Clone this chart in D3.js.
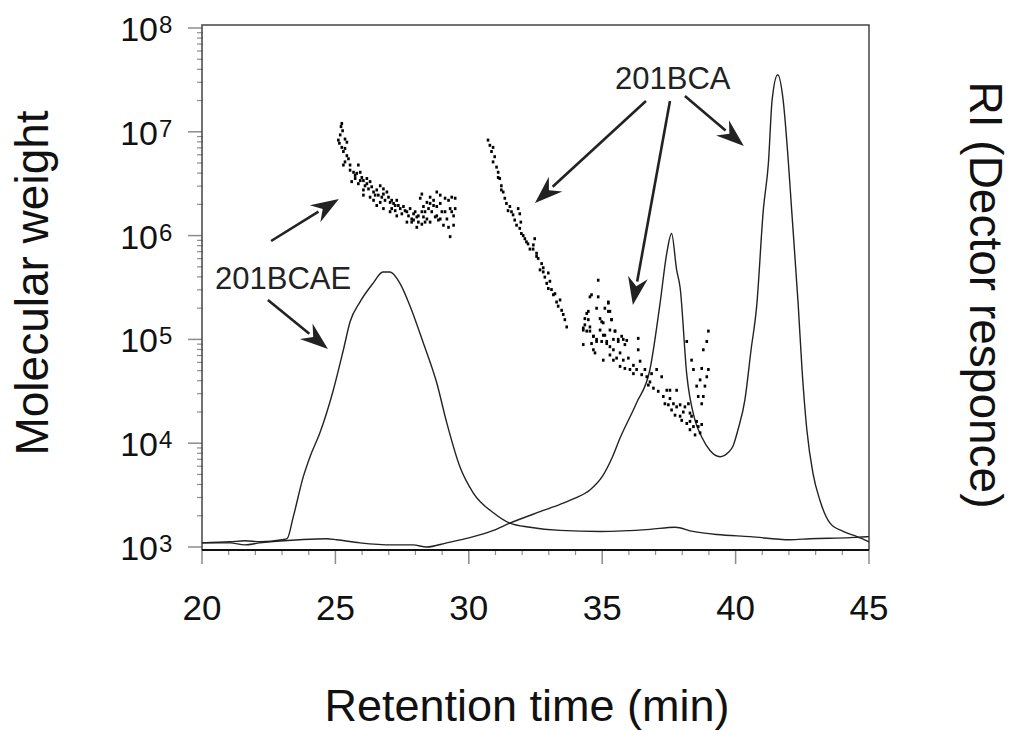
<!DOCTYPE html>
<html>
<head>
<meta charset="utf-8">
<script src="https://cdn.jsdelivr.net/npm/d3@7"></script>
<style>
  body { margin: 0; background: #fff; }
  svg text { font-family: "Liberation Sans", Arial, sans-serif; fill: #111; }
</style>
</head>
<body>
<div id="chart"></div>
<script>
// GPC trace: retention time (min) vs molecular weight (log scale)
// Traces and points are stored as [time, log10 value]

// RI trace, sample 201BCAE
let bcaeTrace = [
  [20.00, 3.04], [21.05, 3.05], [21.61, 3.06], [22.20, 3.05], [23.00, 3.07], [23.19, 3.08],
  [23.42, 3.29], [23.80, 3.68], [24.05, 3.87], [24.42, 4.10], [24.92, 4.51], [25.30, 4.90],
  [25.55, 5.17], [25.92, 5.36], [26.41, 5.54], [26.78, 5.65], [27.05, 5.65], [27.42, 5.54],
  [27.80, 5.32], [28.29, 4.97], [28.80, 4.58], [29.17, 4.20], [29.67, 3.77], [30.17, 3.52],
  [30.92, 3.33], [31.54, 3.23], [32.29, 3.19], [33.42, 3.16], [34.92, 3.15], [36.79, 3.17],
  [37.73, 3.19], [38.40, 3.15], [39.30, 3.12], [40.54, 3.10], [42.04, 3.07], [42.79, 3.08],
  [44.29, 3.09], [45.00, 3.10]
];

// RI trace, sample 201BCA
let bcaTrace = [
  [20.00, 3.04], [21.05, 3.04], [21.61, 3.02], [22.17, 3.04], [23.67, 3.07], [24.67, 3.08],
  [25.05, 3.07], [25.92, 3.04], [27.16, 3.02], [27.91, 3.02], [28.42, 3.00], [29.17, 3.04],
  [30.04, 3.09], [30.92, 3.16], [31.54, 3.23], [32.67, 3.34], [33.42, 3.41], [33.98, 3.47],
  [34.54, 3.55], [35.03, 3.69], [35.37, 3.86], [35.67, 4.05], [36.29, 4.39], [36.79, 4.71],
  [37.17, 5.35], [37.42, 5.83], [37.60, 6.02], [37.79, 5.67], [37.92, 5.50], [38.17, 4.66],
  [38.48, 4.22], [38.73, 4.06], [39.04, 3.93], [39.42, 3.87], [39.72, 3.91], [39.90, 3.97],
  [40.09, 4.13], [40.35, 4.42], [40.58, 4.90], [40.79, 5.32], [41.04, 6.25], [41.23, 6.70],
  [41.37, 7.31], [41.58, 7.55], [41.78, 7.31], [41.98, 6.70], [42.10, 6.25], [42.35, 5.32],
  [42.49, 4.71], [42.67, 4.13], [42.90, 3.71], [43.16, 3.45], [43.54, 3.23], [44.03, 3.15],
  [44.55, 3.10], [45.00, 3.05]
];

// molecular weight points, sample 201BCAE
let bcaeMw = [
  [25.24, 7.08], [25.21, 7.05], [25.27, 7.01], [25.18, 6.97], [25.11, 6.92], [25.15, 6.89],
  [25.36, 6.93], [25.43, 6.90], [25.24, 6.85], [25.36, 6.84], [25.30, 6.81], [25.43, 6.77],
  [25.49, 6.74], [25.36, 6.71], [25.30, 6.68], [25.55, 6.68], [25.86, 6.68], [25.68, 6.61],
  [25.80, 6.60], [25.93, 6.61], [25.99, 6.56], [25.74, 6.55], [25.61, 6.52], [26.05, 6.53],
  [26.18, 6.55], [26.30, 6.52], [26.11, 6.48], [26.24, 6.45], [26.36, 6.47], [26.43, 6.42],
  [26.05, 6.44], [26.55, 6.44], [26.68, 6.48], [26.80, 6.45], [26.61, 6.39], [26.80, 6.40],
  [26.93, 6.42], [26.99, 6.37], [26.68, 6.32], [26.86, 6.34], [27.05, 6.32], [27.18, 6.31],
  [27.30, 6.34], [27.36, 6.29], [27.11, 6.26], [27.24, 6.24], [27.43, 6.26], [27.55, 6.28],
  [27.68, 6.23], [27.49, 6.21], [27.80, 6.26], [27.74, 6.19], [27.93, 6.21], [27.86, 6.16],
  [28.05, 6.18], [28.11, 6.13], [28.24, 6.23], [28.30, 6.18], [28.24, 6.40], [28.18, 6.36],
  [28.43, 6.32], [28.55, 6.37], [28.68, 6.34], [28.80, 6.42], [28.93, 6.39], [28.49, 6.26],
  [28.61, 6.23], [28.74, 6.18], [28.86, 6.15], [28.99, 6.23], [29.11, 6.36], [29.24, 6.34],
  [29.36, 6.37], [29.49, 6.36], [29.30, 6.26], [29.18, 6.16], [29.43, 6.19], [29.05, 6.10],
  [29.24, 6.08], [29.30, 5.99], [28.55, 6.13], [28.43, 6.16], [28.05, 6.08], [28.24, 6.11],
  [27.68, 6.13], [27.86, 6.13], [27.30, 6.19], [27.05, 6.23], [26.80, 6.26], [26.55, 6.29],
  [26.43, 6.34], [26.30, 6.37], [25.86, 6.50], [26.05, 6.39], [28.68, 6.29], [28.80, 6.28],
  [28.93, 6.31], [29.36, 6.23], [29.49, 6.26], [25.55, 6.63], [25.74, 6.58], [25.93, 6.53],
  [26.18, 6.50], [26.49, 6.39], [26.74, 6.37], [27.11, 6.34], [27.24, 6.29], [27.61, 6.24],
  [27.99, 6.23], [28.11, 6.19], [28.36, 6.23], [27.93, 6.15], [28.93, 6.16], [29.11, 6.23],
  [29.43, 6.10], [28.36, 6.13], [28.80, 6.19], [28.30, 6.28], [28.55, 6.31]
];

// molecular weight points, sample 201BCA
let bcaMw = [
  [30.72, 6.92], [30.79, 6.87], [30.91, 6.85], [30.85, 6.81], [30.97, 6.76], [30.91, 6.71],
  [31.04, 6.66], [31.10, 6.61], [31.16, 6.55], [31.22, 6.48], [31.29, 6.42], [31.35, 6.36],
  [31.41, 6.31], [31.54, 6.28], [31.60, 6.23], [31.66, 6.20], [31.72, 6.15], [31.85, 6.26],
  [31.91, 6.21], [31.79, 6.10], [31.91, 6.07], [31.97, 6.02], [32.10, 5.97], [32.22, 5.92],
  [32.29, 5.87], [32.41, 5.87], [32.47, 5.97], [31.95, 6.13], [31.10, 6.56], [31.22, 6.44],
  [31.47, 6.24], [32.04, 6.00], [32.16, 5.94],
  [32.42, 5.91], [32.54, 5.83], [32.60, 5.78], [32.73, 5.73], [32.67, 5.67], [32.79, 5.65],
  [32.85, 5.60], [32.98, 5.64], [32.92, 5.54], [33.04, 5.56], [32.98, 5.49], [33.10, 5.48],
  [33.17, 5.43], [33.23, 5.44], [33.29, 5.36], [33.42, 5.38], [33.35, 5.32], [33.48, 5.28],
  [33.54, 5.24], [33.60, 5.19], [33.67, 5.12], [32.54, 5.80], [32.79, 5.69],
  [34.85, 5.57], [34.54, 5.41], [34.85, 5.41], [34.48, 5.27], [34.35, 5.20], [34.79, 5.30],
  [35.23, 5.35], [35.23, 5.27], [35.35, 5.19], [34.98, 5.17], [34.29, 5.11], [34.42, 5.08],
  [34.54, 5.12], [34.67, 5.03], [34.92, 5.09], [35.04, 5.04], [35.29, 5.09], [35.42, 5.00],
  [34.79, 4.98], [35.17, 4.98], [35.60, 5.00], [35.73, 5.03], [34.60, 4.96], [34.29, 4.95],
  [35.92, 4.99], [35.48, 5.08],
  [34.60, 5.43], [35.23, 5.36], [35.29, 5.27], [35.10, 5.30], [35.35, 5.19], [34.92, 5.20],
  [35.04, 5.16], [34.42, 5.25], [34.48, 5.19], [34.35, 5.14], [34.29, 5.09], [34.54, 5.08],
  [34.67, 5.03], [34.79, 5.00], [34.98, 4.98], [35.10, 5.04], [35.17, 4.96], [35.29, 4.93],
  [35.42, 4.90], [35.48, 5.08], [35.60, 4.98], [35.79, 5.00], [35.85, 4.95], [35.67, 4.87],
  [35.54, 4.82], [35.79, 4.80], [35.98, 4.82], [35.67, 4.74], [35.85, 4.72], [36.04, 4.71],
  [36.17, 4.67], [36.35, 5.01], [36.35, 4.90], [36.42, 4.79], [36.29, 4.71], [36.48, 4.66],
  [36.67, 4.64], [36.60, 4.71], [36.79, 4.59], [36.85, 4.67], [37.04, 4.71], [37.23, 4.64],
  [37.10, 4.50], [37.29, 4.45], [37.42, 4.51], [37.54, 4.43], [37.67, 4.38], [37.79, 4.51],
  [37.60, 4.32], [37.73, 4.27], [37.92, 4.26], [38.04, 4.30], [38.17, 4.19], [38.29, 4.21],
  [38.42, 4.16], [38.48, 4.08], [38.67, 4.10], [38.73, 4.18], [37.92, 4.37], [38.10, 4.35],
  [38.23, 4.38], [38.29, 4.29], [38.35, 4.26], [38.54, 4.21], [38.73, 4.38], [38.79, 4.45],
  [38.85, 4.55], [38.92, 4.64], [38.98, 4.71], [38.67, 4.61], [38.73, 4.72], [38.79, 4.90],
  [38.92, 4.98], [38.98, 5.08], [38.17, 4.98], [38.35, 4.80], [38.42, 4.71], [38.54, 4.55],
  [38.60, 4.45], [34.73, 4.87], [35.04, 4.80], [34.67, 4.90], [35.29, 4.85], [35.42, 4.80],
  [36.17, 4.75], [36.73, 4.56], [36.92, 4.53], [37.35, 4.38], [37.48, 4.37], [37.79, 4.35],
  [37.98, 4.22], [38.29, 4.13], [38.60, 4.16], [37.54, 4.51]
];

let xTicks = [20, 25, 30, 35, 40, 45];
let yExponents = [3, 4, 5, 6, 7, 8];

// annotations: label text, label position, arrows [from, to] in data units
let labels = [
  {text: "201BCAE", t: 20.49, m: 5.486},
  {text: "201BCA", t: 35.48, m: 7.412}
];
let arrows = [
  [[22.59, 5.948], [25.13, 6.353]],
  [[22.47, 5.380], [24.72, 4.908]],
  [[36.64, 7.297], [32.48, 6.314]],
  [[37.54, 7.297], [36.15, 5.331]],
  [[38.10, 7.345], [40.31, 6.863]]
];

let W = 1015, H = 731;
let plot = {left: 202, right: 869, top: 25, bottom: 550};

let svg = d3.select("#chart").append("svg")
    .attr("width", W)
    .attr("height", H);

let x = d3.scaleLinear().domain([20, 45]).range([plot.left, plot.right]);
let y = d3.scaleLog().domain([1e3, 1e8]).range([547, 28]);
let ym = function(l) { return y(Math.pow(10, l)); };

// y ticks (major + minor), gray, outside left
let minorY = [];
for (let e = 3; e < 8; e++) for (let k = 2; k <= 9; k++) minorY.push(k * Math.pow(10, e));
svg.append("g").selectAll("line").data(minorY).enter().append("line")
    .attr("x1", plot.left - 5).attr("x2", plot.left + 1)
    .attr("y1", d => y(d)).attr("y2", d => y(d))
    .attr("stroke", "#8c8c8c").attr("stroke-width", 1.2);
svg.append("g").selectAll("line").data(yExponents).enter().append("line")
    .attr("x1", plot.left - 14).attr("x2", plot.left)
    .attr("y1", d => y(Math.pow(10, d))).attr("y2", d => y(Math.pow(10, d)))
    .attr("stroke", "#8c8c8c").attr("stroke-width", 1.5);

// x ticks
let minorX = d3.range(21, 45).filter(d => d % 5 !== 0);
svg.append("g").selectAll("line").data(minorX).enter().append("line")
    .attr("x1", d => x(d)).attr("x2", d => x(d))
    .attr("y1", plot.bottom).attr("y2", plot.bottom + 5)
    .attr("stroke", "#8c8c8c").attr("stroke-width", 1.2);
svg.append("g").selectAll("line").data(xTicks).enter().append("line")
    .attr("x1", d => x(d)).attr("x2", d => x(d))
    .attr("y1", plot.bottom).attr("y2", plot.bottom + 14)
    .attr("stroke", "#8c8c8c").attr("stroke-width", 1.5);

// frame
svg.append("path")
    .attr("d", `M${plot.left},${plot.bottom}V${plot.top}H${plot.right}V${plot.bottom}`)
    .attr("fill", "none").attr("stroke", "#444").attr("stroke-width", 1.5);
svg.append("line")
    .attr("x1", plot.left).attr("x2", plot.right)
    .attr("y1", plot.bottom).attr("y2", plot.bottom)
    .attr("stroke", "#111").attr("stroke-width", 2);

// tick labels
svg.append("g").selectAll("text").data(xTicks).enter().append("text")
    .attr("x", d => x(d)).attr("y", 620)
    .attr("text-anchor", "middle")
    .style("font-size", "35px")
    .text(d => d);

let yl = svg.append("g").selectAll("g").data(yExponents).enter().append("g");
yl.append("text")
    .attr("x", 158).attr("y", d => y(Math.pow(10, d)) + 13)
    .attr("text-anchor", "end")
    .style("font-size", "34px")
    .text("10");
yl.append("text")
    .attr("x", 159).attr("y", d => y(Math.pow(10, d)) + 5)
    .style("font-size", "24px")
    .text(d => d);

// axis titles
svg.append("text")
    .attr("transform", "translate(48,283) rotate(-90)")
    .attr("text-anchor", "middle")
    .style("font-size", "46px")
    .text("Molecular weight");
svg.append("text")
    .attr("x", 527).attr("y", 721)
    .attr("text-anchor", "middle")
    .style("font-size", "45px")
    .text("Retention time (min)");
svg.append("text")
    .attr("transform", "translate(970,295) rotate(90)")
    .attr("text-anchor", "middle")
    .style("font-size", "46px")
    .text("RI (Dector responce)");

// RI traces
let line = d3.line()
    .x(d => x(d[0]))
    .y(d => ym(d[1]))
    .curve(d3.curveMonotoneX);

[bcaeTrace, bcaTrace].forEach(function(tr) {
  svg.append("path")
      .datum(tr)
      .attr("d", line)
      .attr("fill", "none")
      .attr("stroke", "#222")
      .attr("stroke-width", 1.4);
});

// MW scatter
[bcaeMw, bcaMw].forEach(function(pts) {
  svg.append("g").selectAll("rect").data(pts).enter().append("rect")
      .attr("x", d => x(d[0]) - 1.3)
      .attr("y", d => ym(d[1]) - 1.5)
      .attr("width", 2.6)
      .attr("height", 3)
      .attr("fill", "#000");
});

// annotations
svg.append("g").selectAll("text").data(labels).enter().append("text")
    .attr("x", d => x(d.t)).attr("y", d => ym(d.m))
    .style("font-size", "31px")
    .style("fill", "#222")
    .text(d => d.text);

let ag = svg.append("g");
arrows.forEach(function(a) {
  let x1 = x(a[0][0]), y1 = ym(a[0][1]), x2 = x(a[1][0]), y2 = ym(a[1][1]);
  let dx = x2 - x1, dy = y2 - y1, len = Math.sqrt(dx * dx + dy * dy);
  let ux = dx / len, uy = dy / len, nx = -uy, ny = ux;
  let hl = 28, hw = 10, notch = 9;
  ag.append("line")
      .attr("x1", x1).attr("y1", y1)
      .attr("x2", x2 - ux * (hl - 4)).attr("y2", y2 - uy * (hl - 4))
      .attr("stroke", "#222").attr("stroke-width", 2.6);
  let pts = [
    [x2, y2],
    [x2 - ux * hl + nx * hw, y2 - uy * hl + ny * hw],
    [x2 - ux * (hl - notch), y2 - uy * (hl - notch)],
    [x2 - ux * hl - nx * hw, y2 - uy * hl - ny * hw]
  ];
  ag.append("path")
      .attr("d", "M" + pts.map(p => p.join(",")).join("L") + "Z")
      .attr("fill", "#222");
});
</script>
</body>
</html>
